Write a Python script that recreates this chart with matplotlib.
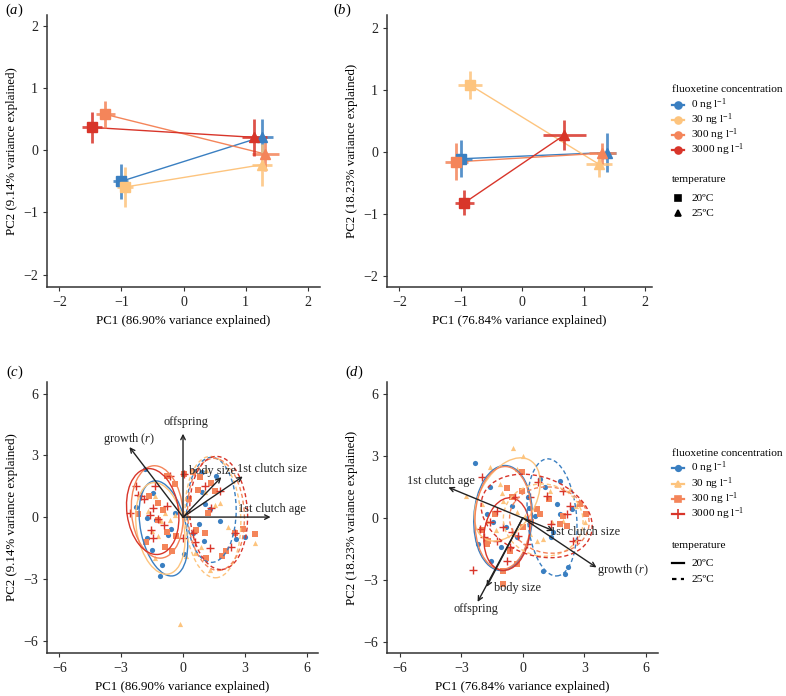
import numpy as np
import matplotlib
matplotlib.use('Agg')
import matplotlib.pyplot as plt
from matplotlib.patches import Ellipse
from matplotlib.lines import Line2D

plt.rcParams['font.family'] = ['Liberation Serif', 'DejaVu Serif']
plt.rcParams['mathtext.fontset'] = 'custom'
plt.rcParams['mathtext.rm'] = 'Liberation Serif'
plt.rcParams['mathtext.it'] = 'Liberation Serif:italic'

conc_labels = ['0 ng l$^{-1}$', '30 ng l$^{-1}$', '300 ng l$^{-1}$', '3000 ng l$^{-1}$']
conc_colors = ['#3a7fc1', '#fdc47e', '#f4855a', '#d8352a']
temp_labels = ['20ºC', '25ºC']

# ---- panel a: mean PC scores (20ºC, 25ºC) with errors
a_x20 = [-1.01, -0.94, -1.26, -1.48]
a_y20 = [-0.50, -0.59, 0.58, 0.37]
a_xe20 = [0.12, 0.13, 0.15, 0.16]
a_ye20 = [0.28, 0.32, 0.22, 0.25]
a_x25 = [1.27, 1.27, 1.32, 1.14]
a_y25 = [0.22, -0.23, -0.06, 0.21]
a_xe25 = [0.18, 0.16, 0.22, 0.20]
a_ye25 = [0.28, 0.34, 0.27, 0.30]

# ---- panel b
b_x20 = [-0.99, -0.85, -1.07, -0.94]
b_y20 = [-0.11, 1.08, -0.16, -0.82]
b_xe20 = [0.17, 0.20, 0.18, 0.15]
b_ye20 = [0.30, 0.23, 0.30, 0.20]
b_x25 = [1.37, 1.25, 1.30, 0.68]
b_y25 = [-0.01, -0.20, -0.02, 0.27]
b_xe25 = [0.16, 0.21, 0.22, 0.35]
b_ye25 = [0.32, 0.20, 0.17, 0.24]

# ---- panel c: individual scores
c_pts_x = [
    [-2.3, -1.75, -1.83, -1.46, -1.33, -1.0, -1.12, -0.57, 0.05, -0.4, 0.78, 1.02, 1.81, 1.08, 1.62, 2.59, 2.99, 0.94, 0.49, -0.73, -1.76, 0.9, -1.5, 1.3],
    [-0.13, 3.5, -1.38, -1.05, -0.85, -1.49, -0.65, -1.2, -1.38, 1.05, 1.54, 1.78, 0.89, 0.57, 1.29, 0.16, -0.4, 0.25, -1.7, 1.1, 2.2],
    [-2.18, -1.65, -1.21, -0.97, -0.76, -0.4, -0.32, -0.89, -0.52, -1.78, 0.05, 0.49, 0.81, 1.38, 1.54, 1.21, 0.65, 1.05, 1.13, 2.1, 2.91, 3.48, 2.52, 0.73, -1.21, -0.78, 1.9, 0.3],
    [-2.59, -2.27, -2.18, -2.02, -1.62, -1.46, -1.34, -1.21, -1.54, -1.46, -0.76, -0.65, 0.05, 0.0, 0.57, 0.49, 1.29, 2.35, 2.51, 1.38, 1.78, 1.05, -1.9, -0.9],
]
c_pts_y = [
    [0.49, -0.05, 2.33, 1.17, -0.13, -2.32, -2.85, -0.58, -1.78, 0.2, -0.32, -1.18, -0.21, 0.63, 1.98, -1.07, -0.97, 1.2, -0.75, -0.86, -1.02, 2.2, -1.6, 0.4],
    [-5.19, -1.26, 1.0, -0.21, 0.2, -0.69, -0.13, -0.94, -2.0, 1.2, 0.6, 0.68, -1.43, -1.75, -2.56, -1.9, 0.11, 0.0, 0.3, 2.3, -0.5],
    [0.16, 1.0, 0.68, 0.36, 2.0, 1.62, -0.94, -1.43, -1.67, -1.23, 2.1, 2.17, 1.94, 1.65, 1.25, 0.19, -0.62, -0.78, -2.0, -1.67, -0.58, -0.81, -0.78, 1.33, -0.13, -0.7, -1.9, 0.9],
    [0.19, 1.49, 1.09, 1.04, 0.11, 0.44, 1.49, -0.11, -0.62, -1.02, 0.52, 1.98, 2.1, -1.02, -1.23, -0.78, -1.51, -1.43, -0.78, 0.44, 1.25, 1.49, 0.9, -0.4],
]

# ---- panel d: individual scores
d_pts_x = [
    [-2.33, -1.59, -1.76, -2.16, -1.54, -1.07, -0.81, -0.54, 0.24, 0.33, 0.85, 1.09, 1.66, 1.82, 1.5, 1.37, 1.0, 2.07, 2.23, 2.39, 1.82, -0.29, -1.43, 0.6],
    [-0.49, -1.59, -1.11, -0.29, 0.03, -2.76, -2.0, -1.76, -0.94, -0.29, 0.36, 0.68, 1.41, 1.98, 2.31, 1.33, 3.04, 1.0, -1.02, -1.3, 0.1, 2.6],
    [-0.05, -0.05, -0.54, -0.78, 0.68, 0.85, 1.82, 1.98, 2.8, 3.09, 2.15, -1.76, -1.68, -0.94, -0.94, -0.29, 0.03, -1.35, -2.0, 0.4, 1.3, -0.6],
    [-2.0, -2.41, -2.08, -1.59, -1.27, -0.94, -0.78, -0.62, -0.37, 0.36, 0.76, 1.17, 1.98, 2.31, 2.15, 2.47, 2.63, 0.2, -0.21, -1.27, -1.9, -0.5, 1.4],
]
d_pts_y = [
    [2.67, 1.49, 0.19, -1.26, -2.07, -1.43, -0.45, 0.6, 1.0, 0.5, 1.9, 1.49, 0.68, 0.19, -0.7, -0.94, -2.56, -2.72, -2.4, 0.44, 1.82, -0.9, -0.2, 0.1],
    [3.4, 2.46, 1.65, 2.38, 3.0, 1.09, 0.68, -0.13, 0.84, 0.28, -0.78, -1.1, -0.21, -0.13, 1.41, 1.33, -0.21, -1.02, 1.2, -0.6, 0.1, 0.6],
    [2.22, 1.33, 1.0, 1.48, 0.44, 0.19, -0.29, 0.11, 0.68, 0.19, -0.37, -1.26, -1.1, -2.56, -3.21, -2.24, -0.45, 0.19, -0.6, -0.2, 0.9, -1.6],
    [1.98, -2.53, -0.53, -0.21, 0.36, -0.45, -2.07, -1.43, 1.0, 1.0, 1.73, 1.09, 1.33, 0.6, 0.19, -1.1, -1.07, -1.26, -0.85, -1.1, -0.9, -0.7, -0.3],
]

# ellipses: [20ºC x4, 25ºC x4] per panel -> centre, full width, full height, angle
c_ell_cx = [-0.95, -1.1, -1.25, -1.47, 1.38, 1.45, 1.6, 1.73]
c_ell_cy = [-0.55, -0.55, 0.25, 0.27, 0.35, 0.0, 0.13, 0.2]
c_ell_w = [2.2, 2.3, 2.5, 2.5, 2.4, 2.7, 2.75, 2.8]
c_ell_h = [4.7, 4.5, 4.5, 4.2, 5.1, 5.9, 5.45, 5.5]
c_ell_ang = [12, 10, 5, 8, 0, 3, 3, 3]

d_ell_cx = [-0.96, -0.75, -0.95, -0.78, 1.43, 1.0, 1.3, 0.68]
d_ell_cy = [0.0, 0.9, 0.0, -0.78, 0.03, -0.1, -0.1, 0.1]
d_ell_w = [2.85, 2.7, 2.75, 2.2, 2.4, 3.9, 3.9, 5.6]
d_ell_h = [5.1, 4.4, 5.0, 3.55, 5.7, 3.5, 3.2, 3.8]
d_ell_ang = [-3, -30, -3, -8, 5, -10, -10, -20]

# loadings (arrows)
c_load_names = ['offspring', 'growth ($r$)', 'body size', '1st clutch size', '1st clutch age']
c_load_x = [0.0, -2.6, 1.86, 2.9, 4.25]
c_load_y = [4.05, 3.4, 1.94, 1.97, 0.0]
d_load_names = ['1st clutch age', '1st clutch size', 'growth ($r$)', 'body size', 'offspring']
d_load_x = [-3.63, 1.5, 3.6, -1.76, -2.2]
d_load_y = [1.49, -0.62, -2.4, -3.34, -4.07]

W, H = 786, 696
fig = plt.figure(figsize=(W / 100, H / 100), dpi=100)
LAB = 9.3


def make_ax(l, r, t, b):
    ax = fig.add_axes([l / W, 1 - b / H, (r - l) / W, (b - t) / H])
    for s in ['top', 'right']:
        ax.spines[s].set_visible(False)
    for s in ['left', 'bottom']:
        ax.spines[s].set_color('#333333')
        ax.spines[s].set_linewidth(1.1)
    ax.tick_params(direction='out', length=3, width=0.8, color='#333333',
                   labelsize=10, labelcolor='#222222')
    return ax


def mean_panel(ax, x20, y20, xe20, ye20, x25, y25, xe25, ye25, xlabel, ylabel):
    for i in range(4):
        col = conc_colors[i]
        ax.plot([x20[i], x25[i]], [y20[i], y25[i]], color=col, lw=1.0, zorder=2)
        for (x, y, xe, ye, m) in [(x20[i], y20[i], xe20[i], ye20[i], 's'),
                                  (x25[i], y25[i], xe25[i], ye25[i], '^')]:
            ax.errorbar(x, y, xerr=xe, yerr=ye, fmt='none', ecolor=col, elinewidth=2,
                        alpha=0.85, capsize=0, zorder=3)
            ax.plot(x, y, marker=m, color=col, ms=6.5, ls='none', zorder=4)
    ax.set_xticks([-2, -1, 0, 1, 2])
    ax.set_yticks([-2, -1, 0, 1, 2])
    ax.set_xlabel(xlabel, fontsize=LAB)
    ax.set_ylabel(ylabel, fontsize=LAB)


def biplot_panel(ax, px, py, cx, cy, ew, eh, ea, lnames, lx, ly, loffs, xlabel, ylabel):
    markers = ['o', '^', 's', '+']
    for i in range(4):
        ax.scatter(px[i], py[i], marker=markers[i], s=14 if i != 3 else 36,
                   color=conc_colors[i], linewidths=1.0 if i == 3 else 0, zorder=3)
    for j in range(8):
        ax.add_patch(Ellipse((cx[j], cy[j]), ew[j], eh[j], angle=ea[j], fill=False,
                             edgecolor=conc_colors[j % 4], lw=1.0,
                             ls='-' if j < 4 else (0, (3, 2)), zorder=4))
    for k in range(len(lnames)):
        ax.annotate('', xy=(lx[k], ly[k]), xytext=(0, 0),
                    arrowprops=dict(arrowstyle='->', color='#222222', lw=1.0,
                                    shrinkA=0, shrinkB=0, mutation_scale=8), zorder=5)
        ax.text(lx[k] + loffs[k][0], ly[k] + loffs[k][1], lnames[k], fontsize=8.8,
                ha='center', va='center', color='#222222', zorder=6)
    ax.set_xticks([-6, -3, 0, 3, 6])
    ax.set_yticks([-6, -3, 0, 3, 6])
    ax.set_xlabel(xlabel, fontsize=LAB)
    ax.set_ylabel(ylabel, fontsize=LAB)


ax_a = make_ax(47, 320, 15, 287)
mean_panel(ax_a, a_x20, a_y20, a_xe20, a_ye20, a_x25, a_y25, a_xe25, a_ye25,
           'PC1 (86.90% variance explained)', 'PC2 (9.14% variance explained)')
ax_a.set_xlim(-2.2, 2.2)
ax_a.set_ylim(-2.2, 2.18)

ax_b = make_ax(387, 652, 15, 287)
mean_panel(ax_b, b_x20, b_y20, b_xe20, b_ye20, b_x25, b_y25, b_xe25, b_ye25,
           'PC1 (76.84% variance explained)', 'PC2 (18.23% variance explained)')
ax_b.set_xlim(-2.2, 2.11)
ax_b.set_ylim(-2.18, 2.21)

ax_c = make_ax(47, 318, 382, 653)
biplot_panel(ax_c, c_pts_x, c_pts_y, c_ell_cx, c_ell_cy, c_ell_w, c_ell_h, c_ell_ang,
             c_load_names, c_load_x, c_load_y,
             [(0.15, 0.55), (0.0, 0.4), (-0.45, 0.3), (1.4, 0.35), (0.05, 0.4)],
             'PC1 (86.90% variance explained)', 'PC2 (9.14% variance explained)')
ax_c.set_xlim(-6.6, 6.55)
ax_c.set_ylim(-6.6, 6.56)

ax_d = make_ax(387, 658, 382, 653)
biplot_panel(ax_d, d_pts_x, d_pts_y, d_ell_cx, d_ell_cy, d_ell_w, d_ell_h, d_ell_ang,
             d_load_names, d_load_x, d_load_y,
             [(-0.35, 0.3), (1.55, -0.05), (1.3, -0.1), (1.5, -0.06), (-0.1, -0.35)],
             'PC1 (76.84% variance explained)', 'PC2 (18.23% variance explained)')
ax_d.set_xlim(-6.62, 6.6)
ax_d.set_ylim(-6.55, 6.6)

# panel letters
for (px, py, lab) in [(5, 10, '($a$)'), (333, 10, '($b$)'), (6, 372, '($c$)'), (345, 372, '($d$)')]:
    fig.text(px / W, 1 - py / H, lab, fontsize=10.5, ha='left', va='center')


# legends drawn by hand in figure pixels
def fx(x):
    return x / W


def fy(y):
    return 1 - y / H


def legend_block(title, ty, labels, ys, colors, markers, lines, msizes):
    fig.text(fx(672), fy(ty), title, fontsize=8.2, ha='left', va='center')
    for lab, y, c, m, ls, ms in zip(labels, ys, colors, markers, lines, msizes):
        if ls is not None:
            fig.add_artist(Line2D([fx(672), fx(684)], [fy(y), fy(y)], color=c, lw=1.6,
                                  ls=ls, transform=fig.transFigure))
        if m is not None:
            fig.add_artist(Line2D([fx(678)], [fy(y)], color=c, marker=m, ms=ms,
                                  mew=1.2, ls='none', transform=fig.transFigure))
        fig.text(fx(691), fy(y), lab, fontsize=8.2, ha='left', va='center')


legend_block('fluoxetine concentration', 89, conc_labels, [105, 120, 135, 150],
             conc_colors, ['o'] * 4, ['-'] * 4, [5] * 4)
legend_block('temperature', 180, temp_labels, [198, 213],
             ['black'] * 2, ['s', '^'], [None, None], [5, 5])
legend_block('fluoxetine concentration', 454, conc_labels, [468, 484, 499, 514],
             conc_colors, ['o', '^', 's', '+'], ['-'] * 4, [4, 4.5, 4.5, 7])
legend_block('temperature', 546, temp_labels, [563, 579],
             ['black'] * 2, [None, None], ['-', (0, (2, 2))], [5, 5])

fig.savefig('out.png', dpi=100)
